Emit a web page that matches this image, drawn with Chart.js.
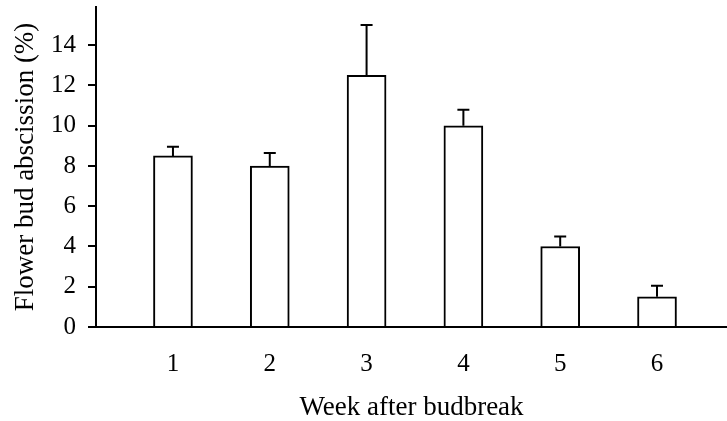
<!DOCTYPE html>
<html>
<head>
<meta charset="utf-8">
<script src="https://cdn.jsdelivr.net/npm/chart.js@4.4.1/dist/chart.umd.min.js"></script>
<style>
  html, body { margin: 0; padding: 0; background: #fff; }
  #wrap { width: 727px; height: 421px; }
</style>
</head>
<body>
<div id="wrap"><canvas id="grafico"></canvas></div>
<script>
// dados
const weeks = [1, 2, 3, 4, 5, 6];
const abscission = [8.5, 8.0, 12.5, 10.0, 4.0, 1.5];
const errors = [0.45, 0.65, 2.5, 0.8, 0.5, 0.55];
const yTicks = [0, 2, 4, 6, 8, 10, 12, 14];

const fontFamily = '"Liberation Serif", "Times New Roman", serif';
const black = '#000';

// desenha só a parte de cima da barra de erro
const errorBars = {
    id: 'errorBars',
    afterDatasetsDraw(chart) {
        const ctx = chart.ctx;
        const yScale = chart.scales.y;
        const meta = chart.getDatasetMeta(0);
        ctx.save();
        ctx.strokeStyle = black;
        ctx.lineWidth = 2;
        meta.data.forEach((bar, i) => {
            const top = yScale.getPixelForValue(abscission[i]);
            const errTop = yScale.getPixelForValue(abscission[i] + errors[i]);
            ctx.beginPath();
            ctx.moveTo(bar.x, top);
            ctx.lineTo(bar.x, errTop);
            ctx.moveTo(bar.x - 6, errTop);
            ctx.lineTo(bar.x + 6, errTop);
            ctx.stroke();
        });
        ctx.restore();
    }
};

const ctx = document.getElementById('grafico').getContext('2d');

new Chart(ctx, {
    type: 'bar',
    data: {
        datasets: [{
            data: weeks.map((w, i) => ({ x: w, y: abscission[i] })),
            backgroundColor: '#fff',
            borderColor: black,
            borderWidth: 2,
            barThickness: 39
        }]
    },
    plugins: [errorBars],
    options: {
        responsive: true,
        maintainAspectRatio: false,
        animation: false,
        layout: { padding: { top: 7, right: 0, bottom: 0, left: 0 } },
        plugins: {
            legend: { display: false },
            tooltip: { enabled: false }
        },
        scales: {
            x: {
                type: 'linear',
                offset: false,
                min: 0.205,
                max: 6.723,
                afterBuildTicks: (scale) => {
                    scale.ticks = weeks.map(v => ({ value: v }));
                },
                afterFit: (scale) => {
                    scale.height = 94;
                    scale.paddingLeft = 0;
                    scale.paddingRight = 0;
                },
                ticks: {
                    color: black,
                    padding: 14,
                    font: { family: fontFamily, size: 25 }
                },
                grid: { display: false },
                border: { color: black, width: 2 },
                title: {
                    display: true,
                    text: 'Week after budbreak',
                    color: black,
                    padding: { top: 0, bottom: -3 },
                    font: { family: fontFamily, size: 27 }
                }
            },
            y: {
                min: 0,
                max: 15.9,
                afterBuildTicks: (scale) => {
                    scale.ticks = yTicks.map(v => ({ value: v }));
                },
                afterFit: (scale) => {
                    scale.width = 96;
                    scale.paddingTop = 0;
                    scale.paddingBottom = 0;
                },
                ticks: {
                    color: black,
                    padding: 12,
                    font: { family: fontFamily, size: 25 }
                },
                grid: {
                    drawOnChartArea: false,
                    color: black,
                    lineWidth: 2,
                    tickLength: 8
                },
                border: { color: black, width: 2 },
                title: {
                    display: true,
                    text: 'Flower bud abscission (%)',
                    color: black,
                    padding: { top: 10, bottom: 0 },
                    font: { family: fontFamily, size: 27 }
                }
            }
        }
    }
});
</script>
</body>
</html>
